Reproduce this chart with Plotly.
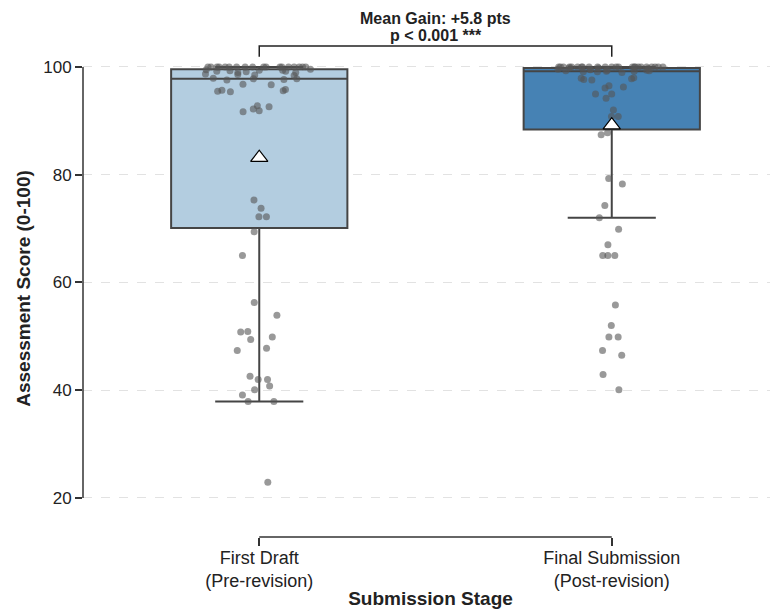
import numpy as np
import plotly.graph_objects as go

# ---------------- data ----------------
categories = ["First Draft<br>(Pre-revision)", "Final Submission<br>(Post-revision)"]

first_draft = [
    100, 100, 100, 100, 100, 100, 100, 100, 100, 100, 100, 100, 100, 100, 100, 100, 100, 100,
    99.4, 99.2, 99.5, 99.0, 99.3, 99.1, 99.6, 99.2, 99.4, 99.0,
    98.6, 98.5, 98.7, 98.4,
    97.8, 97.9, 97.7, 97.8, 97.6,
    96.8, 96.7,
    95.7, 95.5, 95.6, 95.8, 95.4,
    92.8, 92.6, 92.2, 91.9, 91.7,
    75.3, 73.8, 72.2, 72.2, 69.4, 65.0, 56.3, 53.9, 50.9, 50.8, 49.9, 49.4,
    47.8, 47.4, 42.6, 42.0, 42.0, 40.8, 40.1, 39.1, 37.9, 37.9, 22.9,
]

final_submission = [
    100, 100, 100, 100, 100, 100, 100, 100, 100, 100, 100, 100,
    100, 100, 100, 100, 100, 100, 100, 100, 100, 100, 100, 100,
    99.8, 99.6, 99.4, 99.2, 99.0, 99.7, 99.5, 99.3, 99.1, 99.6, 99.4, 99.2, 99.8, 99.3, 99.1,
    98.0, 97.8, 97.6, 97.9, 97.7,
    96.3, 96.5, 96.1,
    95.0, 95.0, 94.2, 92.0, 90.8, 90.8,
    87.8, 87.4, 79.3, 78.3, 74.3, 72.0, 69.9, 67.0, 65.0, 65.0, 65.0,
    55.8, 52.0, 49.9, 49.9, 47.4, 46.5, 42.9, 40.1,
]

# box statistics
q1_vals = [70.1, 88.4]
median_vals = [97.8, 99.2]
q3_vals = [99.6, 99.8]
lower_whisker = [37.9, 72.0]
upper_whisker = [100.0, 100.0]

y_ticks = [20, 40, 60, 80, 100]
gain_label = "Mean Gain: +5.8 pts"
p_label = "p < 0.001 ***"

# ---------------- styling ----------------
box_fills = ["#b3cde0", "#4682b4"]
box_line = "#454545"
point_color = "rgba(85,85,85,0.6)"
axis_color = "#333333"
text_color = "#222222"
font_family = "Liberation Sans, Arial, Helvetica, sans-serif"

fig = go.Figure()

# boxes (precomputed statistics)
for i, cat in enumerate(categories):
    fig.add_trace(go.Box(
        x=[cat],
        q1=[q1_vals[i]], median=[median_vals[i]], q3=[q3_vals[i]],
        lowerfence=[lower_whisker[i]], upperfence=[upper_whisker[i]],
        fillcolor=box_fills[i],
        line=dict(color=box_line, width=2),
        width=0.5, whiskerwidth=0.5,
        boxpoints=False, showlegend=False, hoverinfo="skip",
    ))

# jittered raw points (box itself hidden)
for cat, vals in zip(categories, [first_draft, final_submission]):
    fig.add_trace(go.Box(
        x=[cat] * len(vals), y=vals,
        boxpoints="all", jitter=0.62, pointpos=0,
        width=0.5,
        fillcolor="rgba(0,0,0,0)",
        line=dict(color="rgba(0,0,0,0)", width=0),
        marker=dict(color=point_color, size=7, line=dict(width=0)),
        showlegend=False, hoverinfo="y",
    ))

# means
means = [float(np.mean(first_draft)), float(np.mean(final_submission))]
fig.add_trace(go.Scatter(
    x=categories, y=means, mode="markers",
    marker=dict(symbol="triangle-up", size=15, color="white",
                line=dict(color="black", width=1.2)),
    showlegend=False, hoverinfo="y",
))

# trimmed spines
shapes = [
    dict(type="line", xref="paper", yref="y", x0=0, x1=0, y0=20, y1=100,
         line=dict(color=axis_color, width=1.5)),
    dict(type="line", xref="x", yref="paper", x0=0, x1=1, y0=0, y1=0,
         line=dict(color=axis_color, width=1.5)),
    # significance bracket
    dict(type="path", xref="x", yref="y",
         path="M 0,101.9 L 0,103.9 L 1,103.9 L 1,101.9",
         line=dict(color=text_color, width=1.5)),
]

annotations = [
    dict(x=0.5, y=1.0433, xref="x", yref="paper", text=f"<b>{gain_label}</b>",
         showarrow=False, yanchor="middle", xanchor="center",
         font=dict(size=16, color=text_color, family=font_family)),
    dict(x=0.5, y=1.0091, xref="x", yref="paper", text=f"<b>{p_label}</b>",
         showarrow=False, yanchor="middle", xanchor="center",
         font=dict(size=16, color=text_color, family=font_family)),
]

# the page body adds an 8px margin; the figure is sized so the plot lands where the reference has it
fig.update_layout(
    width=770, height=601,
    margin=dict(l=75, r=0, t=32, b=72),
    paper_bgcolor="white", plot_bgcolor="white",
    font=dict(family=font_family, color=text_color, size=16),
    boxmode="overlay",
    shapes=shapes,
    annotations=annotations,
)

fig.update_xaxes(
    type="category", categoryorder="array", categoryarray=categories,
    range=[-0.5, 1.4716],
    showgrid=False, zeroline=False, showline=False,
    ticks="outside", ticklen=8, tickwidth=1.5, tickcolor=axis_color,
    ticklabelstandoff=-4,
    tickfont=dict(size=18, color=text_color),
    title=dict(text="<b>Submission Stage</b>", font=dict(size=19, color=text_color), standoff=2),
)

fig.update_yaxes(
    range=[12.76, 105.01],
    tickvals=y_ticks, ticktext=[str(v) for v in y_ticks],
    showgrid=True, gridcolor="#e2e2e2", griddash="dash", gridwidth=1,
    zeroline=False, showline=False,
    ticks="outside", ticklen=7, tickwidth=1.5, tickcolor=axis_color,
    tickfont=dict(size=17, color=text_color),
    title=dict(text="<b>Assessment Score (0-100)</b>", font=dict(size=19, color=text_color), standoff=7),
)

fig.write_html("out.html")
